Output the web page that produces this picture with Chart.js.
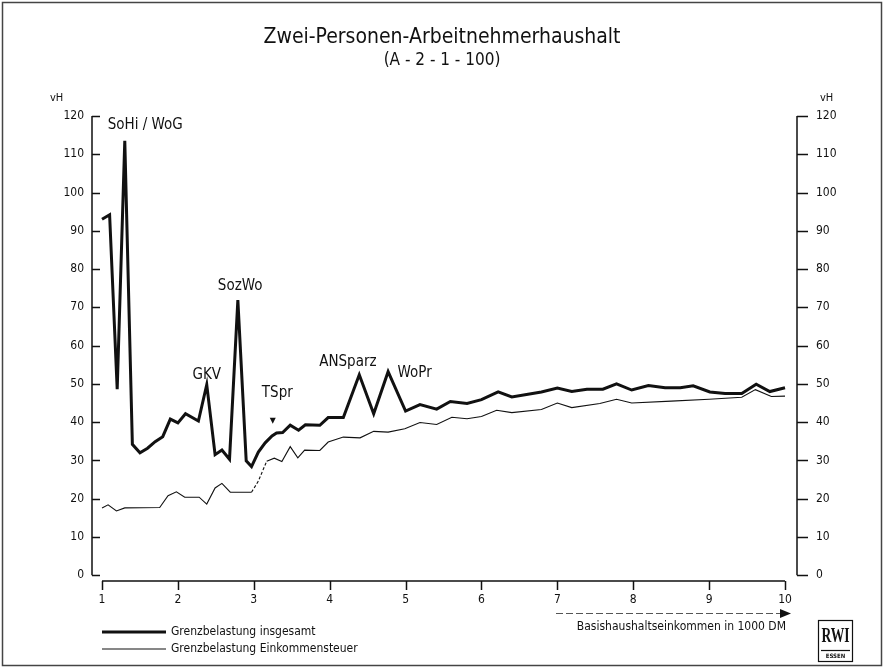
<!DOCTYPE html>
<html lang="de">
<head>
<meta charset="utf-8">
<title>Zwei-Personen-Arbeitnehmerhaushalt</title>
<script src="https://cdn.jsdelivr.net/npm/chart.js@4.4.1/dist/chart.umd.min.js"></script>
<style>
  html, body { margin: 0; padding: 0; background: #fff; }
  canvas { display: block; }
</style>
</head>
<body>
<canvas id="grenzChart" width="884" height="668"></canvas>
<script>
// Grenzbelastung insgesamt (dicke Linie)
const xGesamt = [1.0, 1.1, 1.2, 1.3, 1.4, 1.5, 1.6, 1.7, 1.8, 1.9, 2.0, 2.1, 2.27, 2.38, 2.49, 2.58, 2.68, 2.79, 2.9, 2.97,
    3.06, 3.15, 3.24, 3.3, 3.38, 3.48, 3.59, 3.68, 3.87, 3.98, 4.18, 4.39, 4.58, 4.77, 5.0, 5.19, 5.41, 5.59, 5.81, 6.0,
    6.22, 6.4, 6.79, 7.0, 7.19, 7.39, 7.6, 7.78, 7.98, 8.2, 8.42, 8.62, 8.79, 9.01, 9.21, 9.43, 9.62, 9.8, 10.0];
const yGesamt = [93.0, 94.2, 48.6, 113.5, 34.2, 32.0, 33.2, 34.9, 36.2, 40.8, 39.8, 42.2, 40.3, 49.8, 31.5, 32.7, 30.3, 71.9, 29.9, 28.4,
    32.2, 34.6, 36.4, 37.2, 37.3, 39.2, 37.9, 39.3, 39.2, 41.2, 41.2, 52.4, 42.2, 53.2, 42.9, 44.6, 43.4, 45.4, 44.9, 45.9,
    47.9, 46.6, 47.9, 48.9, 48.0, 48.6, 48.6, 50.0, 48.4, 49.6, 49.0, 49.0, 49.5, 47.9, 47.5, 47.5, 49.9, 48.0, 49.0];

// Grenzbelastung Einkommensteuer (duenne Linie)
const xSteuer = [1.0, 1.08, 1.19, 1.3, 1.76, 1.87, 1.98, 2.09, 2.28, 2.38, 2.49, 2.58, 2.69, 2.97, 3.06, 3.17, 3.27, 3.37, 3.48, 3.58,
    3.67, 3.87, 3.98, 4.18, 4.4, 4.58, 4.77, 4.99, 5.19, 5.41, 5.61, 5.81, 6.0, 6.2, 6.4, 6.79, 7.0, 7.19, 7.56, 7.78,
    7.98, 8.5, 9.0, 9.43, 9.61, 9.82, 10.0];
const ySteuer = [17.6, 18.4, 16.8, 17.6, 17.7, 20.8, 21.8, 20.4, 20.4, 18.6, 22.8, 24.0, 21.7, 21.7, 24.6, 29.8, 30.6, 29.7, 33.6, 30.7,
    32.7, 32.6, 34.8, 36.1, 35.9, 37.6, 37.4, 38.3, 39.9, 39.4, 41.3, 40.9, 41.5, 43.1, 42.5, 43.3, 45.0, 43.8, 44.9, 46.0,
    45.0, 45.5, 46.0, 46.5, 48.5, 46.7, 46.8];

const xTicks = [1, 2, 3, 4, 5, 6, 7, 8, 9, 10];
const yTicks = [0, 10, 20, 30, 40, 50, 60, 70, 80, 90, 100, 110, 120];

// Stichworte an den Spitzen
const notes = [
    { text: 'SoHi / WoG', x: 1.57, y: 117.6 },
    { text: 'GKV', x: 2.38, y: 52.3 },
    { text: 'SozWo', x: 2.82, y: 75.6 },
    { text: 'TSpr', x: 3.31, y: 47.6 },
    { text: 'ANSparz', x: 4.24, y: 55.7 },
    { text: 'WoPr', x: 5.12, y: 52.8 }
];

const ink = '#111';
const font = "'DejaVu Sans Condensed', 'Liberation Sans Narrow', 'DejaVu Sans', sans-serif";
Chart.defaults.font.family = font;
Chart.defaults.color = ink;

const toPoints = (xs, ys) => xs.map((x, i) => ({ x: x, y: ys[i] }));

// Achsenlinien, Striche, Stichworte, Legende und Logo
const decorPlugin = {
    id: 'decor',
    afterDraw(chart) {
        const { ctx, chartArea } = chart;
        const x = chart.scales.x;
        const y = chart.scales.y;
        const top = y.getPixelForValue(120);
        const zero = y.getPixelForValue(0);
        const left = chartArea.left;
        const right = chartArea.right;
        const bottom = chartArea.bottom;

        ctx.save();
        ctx.strokeStyle = ink;
        ctx.lineWidth = 1.5;
        ctx.beginPath();
        ctx.moveTo(left, top);
        ctx.lineTo(left, zero);
        ctx.moveTo(right, top);
        ctx.lineTo(right, zero);
        yTicks.forEach(v => {
            const py = Math.round(y.getPixelForValue(v)) + 0.5;
            ctx.moveTo(left, py);
            ctx.lineTo(left + 8, py);
            ctx.moveTo(right, py);
            ctx.lineTo(right + 11, py);
        });
        ctx.moveTo(x.getPixelForValue(1), bottom);
        ctx.lineTo(x.getPixelForValue(10), bottom);
        xTicks.forEach(v => {
            const px = Math.round(x.getPixelForValue(v)) + 0.5;
            ctx.moveTo(px, bottom);
            ctx.lineTo(px, bottom + 9);
        });
        ctx.stroke();

        // vH
        ctx.fillStyle = ink;
        ctx.font = '11px ' + font;
        ctx.textBaseline = 'middle';
        ctx.textAlign = 'left';
        ctx.fillText('vH', 50, 98);
        ctx.fillText('vH', 820, 98);

        // Stichworte
        ctx.font = '15px ' + font;
        ctx.textAlign = 'center';
        notes.forEach(n => {
            ctx.fillText(n.text, x.getPixelForValue(n.x), y.getPixelForValue(n.y));
        });
        // Marke bei TSpr
        const mx = x.getPixelForValue(3.25);
        const my = y.getPixelForValue(39.6);
        ctx.beginPath();
        ctx.moveTo(mx - 3, my - 6);
        ctx.lineTo(mx + 3, my - 6);
        ctx.lineTo(mx, my);
        ctx.closePath();
        ctx.fill();

        // Legende
        ctx.font = '12px ' + font;
        ctx.textAlign = 'left';
        chart.data.datasets.forEach((ds, i) => {
            const ly = 632 + i * 17;
            ctx.beginPath();
            ctx.lineWidth = ds.borderWidth;
            ctx.moveTo(102, ly);
            ctx.lineTo(166, ly);
            ctx.stroke();
            ctx.fillText(ds.label, 171, ly);
        });

        // Achsentitel mit Pfeil
        ctx.lineWidth = 1.2;
        ctx.strokeStyle = '#555';
        ctx.setLineDash([7, 3]);
        ctx.beginPath();
        ctx.moveTo(556, 613.5);
        ctx.lineTo(782, 613.5);
        ctx.stroke();
        ctx.setLineDash([]);
        ctx.beginPath();
        ctx.moveTo(780, 609);
        ctx.lineTo(791, 613.5);
        ctx.lineTo(780, 618);
        ctx.closePath();
        ctx.fill();
        ctx.font = '12px ' + font;
        ctx.textAlign = 'right';
        ctx.fillText('Basishaushaltseinkommen in 1000 DM', 786, 627);

        // Logo
        ctx.strokeStyle = ink;
        ctx.lineWidth = 1.2;
        ctx.strokeRect(818.5, 620.5, 34, 41);
        ctx.textAlign = 'center';
        ctx.font = 'bold 20px "Liberation Serif", serif';
        ctx.save();
        ctx.translate(835.5, 637);
        ctx.scale(0.68, 1);
        ctx.fillText('RWI', 0, 0);
        ctx.restore();
        ctx.beginPath();
        ctx.moveTo(821, 650.5);
        ctx.lineTo(850, 650.5);
        ctx.stroke();
        ctx.font = 'bold 6px ' + font;
        ctx.fillText('ESSEN', 835.5, 656);

        // Rahmen
        ctx.strokeStyle = '#444';
        ctx.lineWidth = 1.5;
        ctx.strokeRect(2.5, 2.5, 879, 663);
        ctx.restore();
    }
};

new Chart(document.getElementById('grenzChart'), {
    type: 'line',
    data: {
        datasets: [
            {
                label: 'Grenzbelastung insgesamt',
                data: toPoints(xGesamt, yGesamt),
                borderColor: ink,
                borderWidth: 3,
                pointRadius: 0,
                tension: 0,
                fill: false,
                borderJoinStyle: 'miter'
            },
            {
                label: 'Grenzbelastung Einkommensteuer',
                data: toPoints(xSteuer, ySteuer),
                borderColor: ink,
                borderWidth: 1.1,
                pointRadius: 0,
                tension: 0,
                fill: false,
                // im Original an dieser Stelle nur gerissen gedruckt
                segment: {
                    borderDash: c => (c.p0.parsed.x >= 2.97 && c.p0.parsed.x < 3.1 ? [3, 2] : undefined)
                }
            }
        ]
    },
    options: {
        responsive: false,
        animation: false,
        layout: { padding: 0 },
        plugins: {
            legend: { display: false },
            tooltip: { enabled: false },
            title: {
                display: true,
                text: 'Zwei-Personen-Arbeitnehmerhaushalt',
                font: { size: 21, weight: 'normal', lineHeight: 1.2 },
                padding: { top: 25, bottom: 0 },
                color: ink
            },
            subtitle: {
                display: true,
                text: '(A - 2 - 1 - 100)',
                font: { size: 17, weight: 'normal', lineHeight: 1.2 },
                padding: { top: 0, bottom: 45.4 },
                color: ink
            }
        },
        scales: {
            x: {
                type: 'linear',
                min: 0.868,
                max: 10.158,
                grid: { display: false, drawTicks: false },
                border: { display: false },
                afterBuildTicks: scale => { scale.ticks = xTicks.map(v => ({ value: v })); },
                afterFit: scale => { scale.height = 87; },
                ticks: { autoSkip: false, maxRotation: 0, padding: 12, font: { size: 12 } }
            },
            y: {
                position: 'left',
                min: -1.5,
                max: 120,
                grid: { display: false, drawTicks: false },
                border: { display: false },
                afterBuildTicks: scale => { scale.ticks = yTicks.map(v => ({ value: v })); },
                afterFit: scale => { scale.width = 92; },
                ticks: { padding: 8, font: { size: 12 } }
            },
            y2: {
                position: 'right',
                min: -1.5,
                max: 120,
                grid: { display: false, drawTicks: false },
                border: { display: false },
                afterBuildTicks: scale => { scale.ticks = yTicks.map(v => ({ value: v })); },
                afterFit: scale => { scale.width = 87; },
                ticks: { padding: 19, font: { size: 12 } }
            }
        }
    },
    plugins: [decorPlugin]
});
</script>
</body>
</html>
